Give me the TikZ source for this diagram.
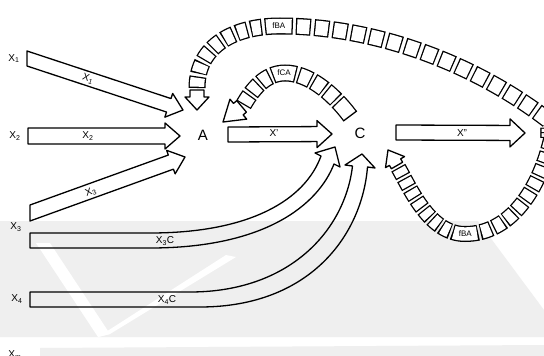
\documentclass[tikz,border=0pt]{standalone}
\usepackage{fontspec}
\setmainfont{Liberation Sans}
\usetikzlibrary{calc,decorations.markings}
\definecolor{wmgray}{RGB}{239,239,239}
\newcommand\mkpat[1]{%
  \gdef\blackpat{on 0pt off 0pt}\gdef\whitepat{on 0pt off 1.3pt}%
  \foreach \bl/\bg in {#1}{%
    \pgfmathsetmacro\bw{\bl-2.6}\pgfmathsetmacro\bgw{\bg+2.6}%
    \xdef\blackpat{\blackpat\space on \bl pt off \bg pt}%
    \xdef\whitepat{\whitepat\space on \bw pt off \bgw pt}%
  }}
% block arrow with explicit start corners
\newcommand\blockarrc[7]{%
  \coordinate (tmpn) at ($(#4)!#7!(#3)$);
  \draw[arrline] (#1) -- ($(tmpn)!#5!90:(#4)$) -- ($(tmpn)!#6!90:(#4)$) -- (#4)
     -- ($(tmpn)!#6!-90:(#4)$) -- ($(tmpn)!#5!-90:(#4)$) -- (#2) -- cycle;}
% block arrow with square start
\newcommand\blockarr[5]{%
  \blockarrc{$(#1)!#3!90:(#2)$}{$(#1)!#3!-90:(#2)$}{#1}{#2}{#3}{#4}{#5}}
% chain of boxes along a path
\newcommand\chain[6]{% #1 path, #2 width, #3 pattern, #4 label pos, #5 name, #6 text
  \mkpat{#3}%
  \draw[bandout=#2pt, dash pattern/.expand once=\blackpat] #1;
  \pgfmathsetmacro\inw{#2-2.6}%
  \draw[bandin=\inw pt, dash pattern/.expand once=\whitepat] #1;
  \path[postaction={decorate}, decoration={markings,
     mark=at position #4pt with {\node[flbl] (#5) {#6};}}] #1;}
\tikzset{
  arrline/.style={draw=black, line width=1.3pt, line join=round},
  bandout/.style={draw=black, line width=#1, line cap=butt},
  bandin/.style={draw=white, line width=#1, line cap=butt},
  big/.style={font=\fontsize{15}{15}\selectfont, inner sep=0pt},
  xlbl/.style={font=\fontsize{10}{10}\selectfont, inner sep=0pt},
  flbl/.style={font=\fontsize{8}{8}\selectfont, inner sep=0pt},
}
\begin{document}
\begin{tikzpicture}[x=1pt,y=-1pt]
\clip (0,0) rectangle (544,356);
\fill[white] (0,0) rectangle (544,356);
% faint background shading
\fill[wmgray] (0,221) -- (478,221) -- (544,310) -- (544,337) -- (0,337) -- cycle;
\fill[wmgray] (40,348) -- (544,345) -- (544,356) -- (40,356) -- cycle;
\fill[white] (36,243) -- (50,243) -- (110,334) -- (98,337) -- cycle;
\fill[white] (98,337) -- (110,334) -- (236,257) -- (226,255) -- cycle;

% main nodes
\node[big] (A) at (203,135) {A};
\node[big] (C) at (360,133) {C};
\node[big] (B) at (544,133) {B};
\node[xlbl] (x1) at (14,58.5) {X\textsubscript{1}};
\node[xlbl] (x2) at (15,136) {X\textsubscript{2}};
\node[xlbl] (x3) at (16,227) {X\textsubscript{3}};
\node[xlbl] (x4) at (17,299) {X\textsubscript{4}};
\node[xlbl] (xm) at (15,355) {X\textsubscript{m}};

% straight block arrows
\coordinate (x1s) at (27,58.5); \coordinate (x1t) at (183,110);
\blockarrc{27,51}{27,66}{x1s}{x1t}{7.1pt}{12.5pt}{15pt}
\node[xlbl, rotate=-18.3] (l1) at (88,79) {X\textsubscript{1}};

\coordinate (x2s) at (28,136); \coordinate (x2t) at (180,136);
\blockarr{x2s}{x2t}{8pt}{13pt}{15pt}
\node[xlbl] (l2) at (88,136) {X\textsubscript{2}};

\coordinate (x3s) at (30,213); \coordinate (x3t) at (185,157);
\blockarrc{30,205}{30,221}{x3s}{x3t}{7.5pt}{12.5pt}{15pt}
\node[xlbl, rotate=19.9] (l3) at (91,192) {X\textsubscript{3}};

\coordinate (xps) at (228,134.5); \coordinate (xpt) at (332,134);
\blockarr{xps}{xpt}{7.5pt}{13.5pt}{15pt}
\node[xlbl] (lp) at (274,133) {X'};

\coordinate (xpps) at (396,132.5); \coordinate (xppt) at (525,133);
\blockarr{xpps}{xppt}{7.5pt}{14pt}{15pt}
\node[xlbl] (lpp) at (462,133) {X''};

% curved arrows to C
\draw[arrline] (30,233) -- (150,233) .. controls (250,233) and (305,200) .. (321,156)
  -- (315,153) -- (335,147) -- (340,167) -- (334,164)
  .. controls (318,205) and (265,248) .. (150,248) -- (30,248) -- cycle;
\node[xlbl] (l3c) at (165,241) {X\textsubscript{3}C};
\draw[arrline] (30,292) -- (190,292) .. controls (290,292) and (345,230) .. (352.5,166)
  -- (345,165) -- (362,154) -- (375,168) -- (367.5,167)
  .. controls (362,235) and (310,307) .. (200,307) -- (30,307) -- cycle;
\node[xlbl] (l4c) at (167,300) {X\textsubscript{4}C};

% top fBA chain (B -> A)
\chain{(197,88) .. controls (197,45) and (235,26) .. (280,26) .. controls (370,26) and (470,60) .. (548,120)}
  {17}{11.5/3,11.5/3,11.5/3,11.5/3,11.5/3,11.5/3,11.5/3,28/3,15/3.5,15/3.5,15/3.5,15/3.5,15/3.5,15/3.5,15/3.5,15/3.5,15/3.5,15/3.5,15/3.5,15/3.5,15/3.5,15/3.5,15/3.5,15/3.5,15/3.5,15/3.5}
  {115.5}{fbatop}{fBA}
\blockarr{197,90}{197,110}{7pt}{12pt}{13pt}

% fCA chain (C -> A)
\chain{(243.5,104.8) .. controls (252,90) and (265,73) .. (285,73) .. controls (308,73) and (332,92) .. (350,116)}
  {17}{11.5/2.5,11.5/2.5,11.5/2.5,24/2.5,13.5/2.5,13.5/2.5,13.5/2.5,60/1}
  {54}{fca}{fCA}
\path[postaction={decorate}, decoration={markings,
   mark=at position 1 with {\draw[solid, black, line width=1.3pt] (0,-8.5pt) -- (0,8.5pt);}}]
   (243.5,104.8) .. controls (252,90) and (265,73) .. (285,73) .. controls (308,73) and (332,92) .. (350,116);
\blockarr{241.6,106.4}{223,122}{7.5pt}{13pt}{20pt}

% lower fBA chain (B -> C)
\chain{(398.3,167.7) .. controls (411,190) and (430,234) .. (465,234) .. controls (510,234) and (540,190) .. (552,135)}
  {16}{10/2.3,10/2.3,10/2.3,10/2.3,10/2.3,10/2.3,10/2.3,26/2.3,11.5/2.4,11.5/2.4,11.5/2.4,11.5/2.4,11.5/2.4,11.5/2.4,11.5/2.4,11.5/2.4,11.5/2.4,11.5/2.4,11.5/2.4,11.5/2.4}
  {99.1}{fbabot}{fBA}
\blockarr{397,165.5}{388,150}{6.5pt}{11pt}{14pt}
\end{tikzpicture}
\end{document}
